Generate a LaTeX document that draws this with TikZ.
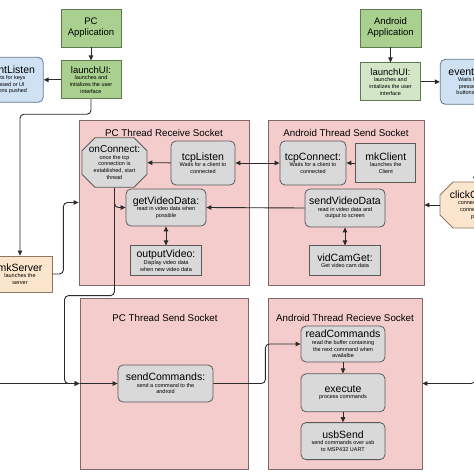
\documentclass[tikz,border=0pt]{standalone}
\usepackage{fontspec}
\setmainfont{Liberation Sans}
\usetikzlibrary{positioning,arrows.meta,shapes.misc}

\definecolor{appGreen}{HTML}{A9D08E}
\definecolor{appLight}{HTML}{D3E7C8}
\definecolor{appBorder}{HTML}{5E7A50}
\definecolor{threadPink}{HTML}{F4CCCC}
\definecolor{threadBorder}{HTML}{806868}
\definecolor{stepGrey}{HTML}{D9D9D9}
\definecolor{stepBorder}{HTML}{5A5A5A}
\definecolor{listenBlue}{HTML}{CFE2F3}
\definecolor{listenBorder}{HTML}{65788C}
\definecolor{serverOrange}{HTML}{FCE5CD}
\definecolor{serverBorder}{HTML}{8C7860}
\definecolor{lineGrey}{HTML}{2A2A2A}

\newcommand{\ttlfont}{\fontsize{10.5}{11.5}\selectfont}
\newcommand{\appfont}{\fontsize{9.5}{11}\selectfont}
\newcommand{\subfont}{\fontsize{5.5}{6.6}\selectfont}

\begin{document}
\begin{tikzpicture}[
        x=1pt, y=1pt,
        >={Triangle[length=5pt,width=4.5pt]},
        every edge/.append style={draw=lineGrey, line width=0.9pt},
        link/.style={draw=lineGrey, line width=0.9pt, rounded corners=4pt},
        app/.style={
            % The shape
            rectangle, minimum width=60pt, minimum height=38pt, inner sep=1pt,
            % The border
            line width=0.8pt, draw=appBorder,
            % The color
            fill=appGreen,
            % Font
            font=\subfont, align=center
        },
        thread/.style={
            % The shape
            rectangle, inner sep=0pt,
            % The border
            line width=0.8pt, draw=threadBorder,
            % The color
            fill=threadPink
        },
        threadTitle/.style={
            % Font
            font=\fontsize{9.75}{11}\selectfont, inner sep=0pt
        },
        stepbox/.style={
            % The shape
            rectangle, rounded corners=5pt, inner sep=1pt,
            % The border
            line width=0.8pt, draw=stepBorder,
            % The color
            fill=stepGrey,
            % Font
            font=\subfont, align=center
        },
        sharpbox/.style={
            stepbox, rounded corners=0pt
        },
        gate/.style={
            % The shape
            chamfered rectangle, chamfered rectangle xsep=5pt,
            chamfered rectangle ysep=8pt, inner sep=0pt,
            % The border
            line width=0.8pt, draw=stepBorder,
            % The color
            fill=stepGrey,
            % Font
            font=\subfont, align=center
        },
        listen/.style={
            % The shape
            rectangle, rounded corners=5pt, minimum width=70pt,
            minimum height=45pt, inner sep=1pt,
            % The border
            line width=0.8pt, draw=listenBorder,
            % The color
            fill=listenBlue,
            % Font
            font=\subfont, align=center
        },
        server/.style={
            % The shape
            rectangle, inner sep=1pt,
            % The border
            line width=0.8pt, draw=serverBorder,
            % The color
            fill=serverOrange,
            % Font
            font=\subfont, align=center
        },
    ]
        \useasboundingbox (0,0) rectangle (474,-474);
        \clip (0,0) rectangle (474,-474);

        % the four socket threads
        \node (pcRecv) [thread,minimum width=170pt,minimum height=165pt] at (164,-202.5) {};
        \node (pcRecvTitle) [threadTitle] at (164,-133) {PC Thread Receive Socket};
        \node (andSend) [thread,minimum width=156pt,minimum height=165pt] at (346,-202.5) {};
        \node (andSendTitle) [threadTitle] at (346,-133) {Android Thread Send Socket};
        \node (pcSend) [thread,minimum width=168pt,minimum height=171pt] at (164,-383.5) {};
        \node (pcSendTitle) [threadTitle] at (165,-318) {PC Thread Send Socket};
        \node (andRecv) [thread,minimum width=154pt,minimum height=171pt] at (345,-383.5) {};
        \node (andRecvTitle) [threadTitle] at (345,-318) {Android Thread Recieve Socket};

        % applications
        \node (pcApp) [app,font=\appfont] at (91,-28) {PC\\Application};
        \node (pcLaunch) [app,below=13pt of pcApp] {{\appfont launchUI:}\\launches and\\ intializes the user\\ interface};
        \path (pcApp) edge[->] (pcLaunch);
        \node (leftListen) [listen,left=17pt of pcLaunch] {{\ttlfont eventListen}\\Waits for keys\\ pressed or UI\\ buttons pushed};
        \path (pcLaunch) edge[->] (leftListen);

        \node (androidApp) [app,font=\appfont,minimum width=61pt] at (390.5,-28) {Android\\Application};
        \node (androidLaunch) [app,fill=appLight,below=15pt of androidApp] {{\appfont launchUI:}\\launches and\\ intializes the user\\ interface};
        \path (androidApp) edge[->] (androidLaunch);
        \node (rightListen) [listen,right=19pt of androidLaunch] {{\ttlfont eventListen}\\Waits for keys\\ pressed or UI\\ buttons pushed};
        \path (androidLaunch) edge[->] (rightListen);

        % server and client start
        \node (mkServer) [server,minimum width=64pt,minimum height=36pt] at (20,-274) {{\ttlfont mkServer}\\launches the\\ server};
        \draw[link,->] (pcLaunch.south) -- ++(0,-15) -| (mkServer.north);
        \draw[link,->] (mkServer.east) -- ++(11,0) |- (pcRecv.west);

        \node (clickConnect) [gate,fill=serverOrange,draw=serverBorder,minimum width=82pt,minimum height=46pt] at (481,-205) {{\ttlfont clickConnect:}\\connects when the\\ connect button is\\ pressed};
        \draw[link,->] (rightListen.south) -- (rightListen.south |- clickConnect.north);
        \path (clickConnect.west) edge[->] (clickConnect.west -| andSend.east);
        \draw[link,->] (rightListen.south |- clickConnect.south) |- (andRecv.east);

        % PC receive thread
        \node (onConnect) [gate,minimum width=65pt,minimum height=47pt] at (114.5,-162.5) {{\fontsize{10}{11}\selectfont onConnect:}\\once the tcp\\ connection is\\ established, start\\ thread};
        \node (tcpListen) [stepbox,minimum width=64pt,minimum height=44pt] at (203,-163) {{\ttlfont tcpListen}\\Waits for a client to\\ connected};
        \path (tcpListen) edge[->] (onConnect);
        \node (getVideoData) [stepbox,minimum width=80pt,minimum height=37pt] at (166,-207.5) {{\ttlfont getVideoData:}\\read in video data when\\ possible};
        \node (outputVideo) [sharpbox,minimum width=71pt,minimum height=30pt,below=19pt of getVideoData] {{\ttlfont outputVideo:}\\Display video data\\ when new video data};
        \path (getVideoData) edge[<->] (outputVideo);
        \draw[link,->] ([yshift=-14pt]onConnect.south) |- (getVideoData.west);

        % Android send thread
        \node (tcpConnect) [stepbox,minimum width=66pt,minimum height=44pt] at (313,-163) {{\ttlfont tcpConnect:}\\Waits for a client to\\ connected};
        \path (tcpListen) edge[<->] (tcpConnect);
        \node (mkClient) [sharpbox,minimum width=60pt,minimum height=39pt,right=9pt of tcpConnect] {{\ttlfont mkClient}\\launches the\\ Client};
        \path (mkClient) edge[->] (tcpConnect);
        \node (sendVideoData) [stepbox,minimum width=80pt,minimum height=38pt] at (345,-208) {{\ttlfont sendVideoData}\\read in video data and\\ output to screen};
        \path (sendVideoData.west) edge[->] (getVideoData.east);
        \node (vidCamGet) [sharpbox,minimum width=71pt,minimum height=30pt,below=18pt of sendVideoData] {{\ttlfont vidCamGet:}\\Get video cam data};
        \path (sendVideoData) edge[<->] (vidCamGet);

        % PC send thread
        \node (sendCommands) [stepbox,minimum width=95pt,minimum height=37pt] at (165.5,-383.5) {{\ttlfont sendCommands:}\\send a command to the\\ android};
        \draw[link,->] (onConnect.south) -- ++(0,-108) -- ++(-50,0) |- (pcSend.west);
        \draw[link,->] (leftListen.west) -- ++(-6,0) |- (pcSend.west);
        \path (pcSend.west) edge[->] (sendCommands.west);

        % Android receive thread
        \node (readCommands) [stepbox,minimum width=84pt,minimum height=36pt] at (343,-344) {{\ttlfont readCommands}\\read the buffer containing\\ the next command when\\ availalbe};
        \draw[link,->] (sendCommands.east) -- ++(52,0) |- (readCommands.west);
        \node (execute) [stepbox,minimum width=84pt,minimum height=38pt,below=11pt of readCommands] {{\ttlfont execute}\\process commands};
        \path (readCommands) edge[->] (execute);
        \node (usbSend) [stepbox,minimum width=84pt,minimum height=37pt,below=10pt of execute] {{\ttlfont usbSend}\\send commands over usb\\ to MSP432 UART};
        \path (execute) edge[->] (usbSend);

    \end{tikzpicture}
\end{document}
